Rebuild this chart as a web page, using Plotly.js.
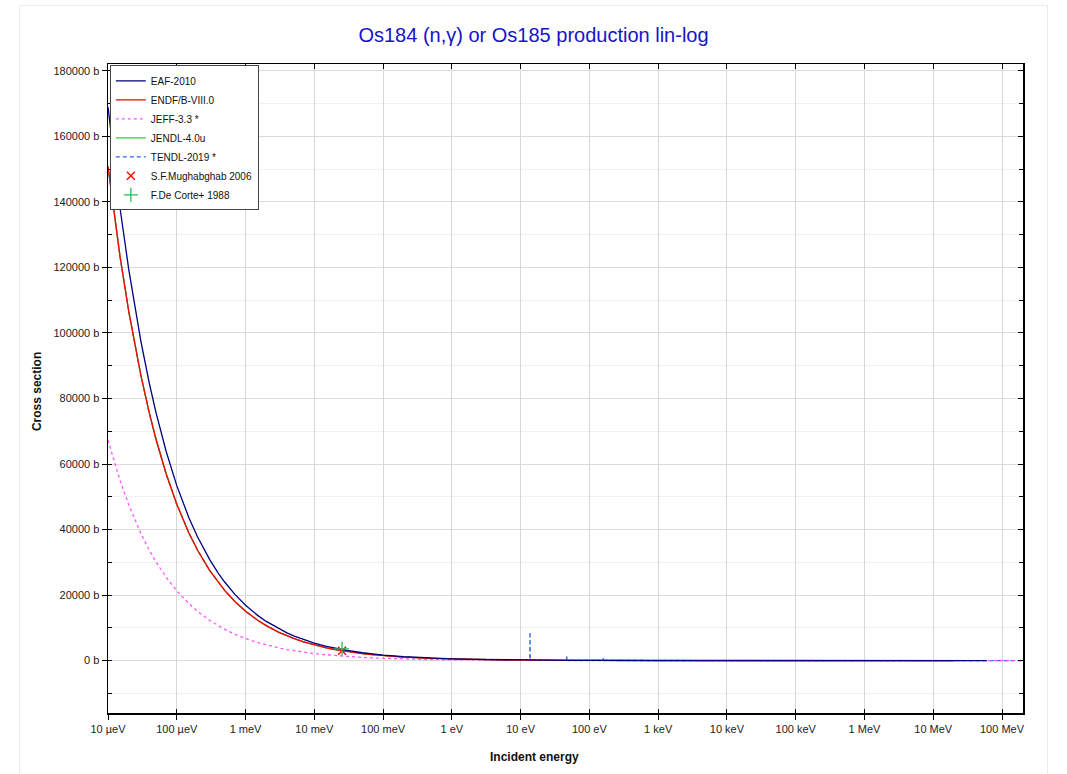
<!DOCTYPE html>
<html>
<head>
<meta charset="utf-8">
<script src="https://cdn.plot.ly/plotly-3.0.1.min.js"></script>
<style>
  html, body { margin: 0; padding: 0; background: #ffffff; overflow: hidden; }
  #chart { width: 1067px; height: 774px; position: absolute; left: 0; top: 0; }
  #frame { position: absolute; left: 19px; top: 5px; width: 1027px; height: 820px;
           border: 1px solid #ececec; pointer-events: none; z-index: 5; }
</style>
</head>
<body>
<div id="chart"></div>
<div id="frame"></div>
<script>
// ---------------- data ----------------
const TITLE = "Os184 (n,\u03b3) or Os185 production lin-log";

const X_TICK_VALS = [1e-5, 1e-4, 1e-3, 1e-2, 1e-1, 1, 10, 100, 1e3, 1e4, 1e5, 1e6, 1e7, 1e8];
const X_TICK_TEXT = ["10 \u00b5eV", "100 \u00b5eV", "1 meV", "10 meV", "100 meV", "1 eV", "10 eV",
                     "100 eV", "1 keV", "10 keV", "100 keV", "1 MeV", "10 MeV", "100 MeV"];
const Y_TICK_VALS = [0, 20000, 40000, 60000, 80000, 100000, 120000, 140000, 160000, 180000];
const Y_TICK_TEXT = ["0 b", "20000 b", "40000 b", "60000 b", "80000 b", "100000 b", "120000 b",
                     "140000 b", "160000 b", "180000 b"];
const Y_MINOR_VALS = [-10000, 10000, 30000, 50000, 70000, 90000, 110000, 130000, 150000, 170000];

// energies (eV) of evaluated curves
const E_EVAL = [1e-5, 1.5e-5, 2e-5, 3e-5, 4e-5, 5e-5, 7e-5, 1e-4, 1.5e-4, 2e-4, 3e-4, 4e-4, 5e-4, 7e-4,
                1e-3, 1.5e-3, 2e-3, 3e-3, 4e-3, 5e-3, 7e-3, 1e-2, 1.5e-2, 2e-2, 3e-2, 5e-2, 7e-2,
                0.1, 0.2, 0.5, 1, 2, 5, 10, 20, 50, 100, 1e3, 1e4, 1e5, 1e6, 1e7, 2e7];

const ENDF_B = [150900, 123200, 106700, 87130, 75450, 67490, 57040, 47720, 38960, 33740, 27550, 23860, 21340, 18040,
                15090, 12320, 10670, 8713, 7545, 6749, 5704, 4772, 3896, 3374, 2755, 2134, 1804,
                1509, 1067, 675, 477, 337, 213, 151, 107, 67, 48, 10, 2, 0.5, 0.1, 0.01, 0.005];

const JENDL_B = [150900, 123200, 106700, 87130, 75450, 67490, 57040, 47720, 38960, 33740, 27550, 23860, 21340, 18040,
                 15090, 12320, 10670, 8713, 7545, 6749, 5704, 4772, 3896, 3374, 2755, 2134, 1804,
                 1509, 1067, 675, 477, 337, 213, 151, 107, 67, 48, 10, 2, 0.5, 0.1, 0.01, 0.005];

const EAF_E = [1e-5, 1.5e-5, 2e-5, 3e-5, 4e-5, 5e-5, 7e-5, 1e-4, 1.5e-4, 2e-4, 3e-4, 4e-4, 5e-4, 7e-4,
               1e-3, 1.5e-3, 2e-3, 3e-3, 4e-3, 5e-3, 7e-3, 1e-2, 1.5e-2, 2e-2, 3e-2, 5e-2, 7e-2,
               0.1, 0.2, 0.5, 1, 2, 5, 10, 20, 50, 100, 1e3, 1e4, 1e5, 1e6, 1e7, 2e7, 6e7];
const EAF_B = [169000, 138000, 119500, 97600, 84500, 75600, 63900, 53400, 43600, 37800, 30900, 26700, 23900, 20200,
               16900, 13800, 11950, 9760, 8450, 7560, 6390, 5340, 4360, 3780, 3090, 2390, 2020,
               1690, 1195, 756, 534, 378, 239, 169, 120, 75, 53, 12, 2.5, 0.6, 0.12, 0.01, 0.005, 0.002];

const JEFF_E = [1e-5, 1.5e-5, 2e-5, 3e-5, 4e-5, 5e-5, 7e-5, 1e-4, 1.5e-4, 2e-4, 3e-4, 4e-4, 5e-4, 7e-4,
                1e-3, 1.5e-3, 2e-3, 3e-3, 4e-3, 5e-3, 7e-3, 1e-2, 1.5e-2, 2e-2, 3e-2, 5e-2, 7e-2,
                0.1, 0.2, 0.5, 1, 2, 5, 10, 20, 50, 100, 1e3, 1e4, 1e5, 1e6, 1e7, 2e7, 1e8, 2e8];
const JEFF_B = [67300, 54950, 47590, 38850, 33650, 30100, 25430, 21280, 17380, 15050, 12290, 10640, 9517, 8043,
                6730, 5495, 4759, 3885, 3365, 3010, 2543, 2128, 1738, 1505, 1229, 952, 804,
                673, 476, 301, 213, 150, 95, 67, 48, 30, 21, 7, 2, 0.5, 0.1, 0.01, 0.005, 0.001, 0.0005];

const TENDL_E = [1e-5, 1.5e-5, 2e-5, 3e-5, 4e-5, 5e-5, 7e-5, 1e-4, 1.5e-4, 2e-4, 3e-4, 4e-4, 5e-4, 7e-4,
                 1e-3, 1.5e-3, 2e-3, 3e-3, 4e-3, 5e-3, 7e-3, 1e-2, 1.5e-2, 2e-2, 3e-2, 5e-2, 7e-2,
                 0.1, 0.2, 0.5, 1, 2, 5, 10, 12, 13.6, 13.7, 13.8, 20, 46.5, 46.8, 47.1, 100,
                 124.5, 125, 125.5, 158.5, 159, 159.5, 1e3, 1e4, 1e5, 1e6, 1e7, 1e8, 2e8];
const TENDL_B = [150900, 123200, 106700, 87130, 75450, 67490, 57040, 47720, 38960, 33740, 27550, 23860, 21340, 18040,
                 15090, 12320, 10670, 8713, 7545, 6749, 5704, 4772, 3896, 3374, 2755, 2134, 1804,
                 1509, 1067, 675, 477, 337, 213, 151, 130, 120, 8800, 120, 107, 70, 1700, 70, 48,
                 45, 500, 45, 40, 800, 40, 10, 2, 0.5, 0.1, 0.01, 0.001, 0.0005];

const MUGHABGHAB_E = [0.0253];
const MUGHABGHAB_B = [3000];
const DECORTE_E = [0.0253];
const DECORTE_B = [3600];

// ---------------- chart ----------------
const FONT = "Arial, 'Liberation Sans', Helvetica, sans-serif";

function line(name, x, y, color, dash, rank) {
  return { type: 'scatter', mode: 'lines', name: name, x: x, y: y, legendrank: rank,
           line: { color: color, width: 1.3, dash: dash }, hoverinfo: 'skip' };
}

const traces = [
  line('TENDL-2019 *', TENDL_E, TENDL_B, '#3366ee', '4px,3px', 5),
  line('JENDL-4.0u', E_EVAL, JENDL_B, '#33cc33', 'solid', 4),
  line('JEFF-3.3 *', JEFF_E, JEFF_B, '#ff55ff', '3px,3px', 3),
  line('ENDF/B-VIII.0', E_EVAL, ENDF_B, '#ff0000', 'solid', 2),
  line('EAF-2010', EAF_E, EAF_B, '#000080', 'solid', 1),
  { type: 'scatter', mode: 'markers', name: 'S.F.Mughabghab 2006', x: MUGHABGHAB_E, y: MUGHABGHAB_B,
    legendrank: 6, marker: { symbol: 'x-thin', size: 8, line: { color: '#ff0000', width: 1.3 }, color: '#ff0000' } },
  { type: 'scatter', mode: 'markers', name: 'F.De Corte+ 1988', x: DECORTE_E, y: DECORTE_B,
    legendrank: 7, marker: { symbol: 'cross-thin', size: 10, line: { color: '#22bb55', width: 1.3 }, color: '#22bb55' } },
  { type: 'scatter', x: [], y: [], xaxis: 'x2', yaxis: 'y2', showlegend: false, hoverinfo: 'skip' },
  { type: 'scatter', x: [], y: [], xaxis: 'x3', yaxis: 'y3', showlegend: false, hoverinfo: 'skip' }
];

const XR = [-5, 8.305];
const YR = [-16000, 182100];

const layout = {
  width: 1067, height: 774,
  margin: { l: 108, r: 44, t: 64, b: 61, pad: 0 },
  paper_bgcolor: '#ffffff', plot_bgcolor: '#ffffff',
  font: { family: FONT, size: 11, color: '#222222' },
  showlegend: true,
  title: { text: TITLE, font: { family: FONT, size: 20, color: '#1414c8' },
           x: 0.5, xref: 'container', xanchor: 'center', y: 0.955, yref: 'container', yanchor: 'middle' },
  legend: { x: 0.002, y: 0.998, xanchor: 'left', yanchor: 'top', bgcolor: '#ffffff',
            bordercolor: '#444444', borderwidth: 1, font: { family: FONT, size: 10, color: '#111' },
            traceorder: 'normal', itemwidth: 30, tracegroupgap: 0 },
  xaxis: { type: 'log', range: XR, tickvals: X_TICK_VALS, ticktext: X_TICK_TEXT,
           ticks: 'outside', ticklen: 5, tickwidth: 1, tickcolor: '#000',
           showline: true, linecolor: '#000', linewidth: 1.5, mirror: true,
           showgrid: true, gridcolor: '#d6d6d6', gridwidth: 1, zeroline: false,
           tickfont: { family: FONT, size: 11, color: '#222' } },
  yaxis: { range: YR, tickvals: Y_TICK_VALS, ticktext: Y_TICK_TEXT,
           ticks: 'outside', ticklen: 5, tickwidth: 1, tickcolor: '#000',
           showline: true, linecolor: '#000', linewidth: 1.5, mirror: true,
           showgrid: true, gridcolor: '#dadada', gridwidth: 1, zeroline: false,
           tickfont: { family: FONT, size: 11, color: '#222' },
           minor: { tickvals: Y_MINOR_VALS, showgrid: true, gridcolor: '#f1f1f1', gridwidth: 1, ticks: '' } },
  xaxis2: { type: 'log', range: XR, overlaying: 'x', side: 'top', anchor: 'y', tickvals: X_TICK_VALS,
            ticks: 'inside', ticklen: 5, tickcolor: '#000', showticklabels: false, showgrid: false,
            zeroline: false, showline: false },
  yaxis2: { range: YR, overlaying: 'y', side: 'right', anchor: 'x', tickvals: Y_TICK_VALS,
            ticks: 'inside', ticklen: 5, tickcolor: '#000', showticklabels: false, showgrid: false,
            zeroline: false, showline: false,
            minor: { tickvals: Y_MINOR_VALS, ticks: 'inside', ticklen: 4, tickcolor: '#000', showgrid: false } },
  xaxis3: { type: 'log', range: XR, overlaying: 'x', side: 'bottom', anchor: 'y', tickvals: X_TICK_VALS,
            ticks: 'inside', ticklen: 4, tickcolor: '#000', showticklabels: false, showgrid: false,
            zeroline: false, showline: false },
  yaxis3: { range: YR, overlaying: 'y', side: 'left', anchor: 'x', tickvals: Y_TICK_VALS,
            ticks: 'inside', ticklen: 4, tickcolor: '#000', showticklabels: false, showgrid: false,
            zeroline: false, showline: false,
            minor: { tickvals: Y_MINOR_VALS, ticks: 'inside', ticklen: 4, tickcolor: '#000', showgrid: false } },
  annotations: [
    { text: '<b>Incident energy</b>', xref: 'paper', yref: 'paper', x: 0.4656, y: -0.068,
      xanchor: 'center', yanchor: 'middle', showarrow: false, font: { family: FONT, size: 12, color: '#111' } },
    { text: '<b>Cross section</b>', xref: 'paper', yref: 'paper', x: -0.0776, y: 0.496, textangle: -90,
      xanchor: 'center', yanchor: 'middle', showarrow: false, font: { family: FONT, size: 12, color: '#111' } }
  ]
};

Plotly.newPlot('chart', traces, layout, { staticPlot: true, displayModeBar: false });
</script>
</body>
</html>
